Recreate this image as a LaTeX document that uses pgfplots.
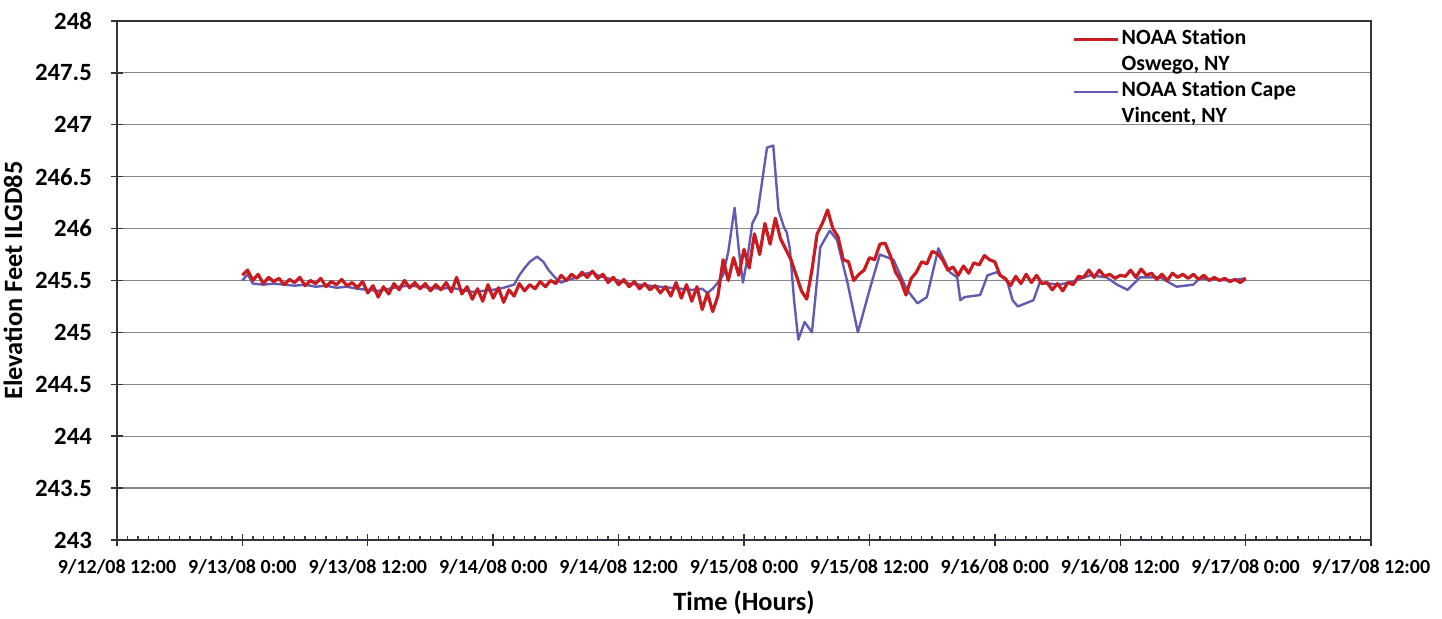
\documentclass[border=0pt]{standalone}
\usepackage{pgfplots}
\pgfplotsset{compat=1.18}
\usepackage{pgfplotstable}
\usepackage{fontspec}
\setmainfont{Carlito}

\definecolor{oswego}{RGB}{200,28,32}
\definecolor{capev}{RGB}{98,92,176}
\definecolor{gridgray}{RGB}{135,135,140}
\definecolor{boxgray}{RGB}{50,52,60}
\definecolor{baseaxis}{RGB}{50,72,55}

% hours since 9/12/08 12:00, water level (ft, IGLD85)
\pgfplotstableread{
t     z
12.0  245.55
12.5  245.60
13.0  245.50
13.5  245.56
14.0  245.47
14.5  245.53
15.0  245.49
15.5  245.52
16.0  245.46
16.5  245.51
17.0  245.48
17.5  245.53
18.0  245.45
18.5  245.50
19.0  245.47
19.5  245.52
20.0  245.44
20.5  245.49
21.0  245.46
21.5  245.51
22.0  245.45
22.5  245.48
23.0  245.43
23.5  245.49
24.0  245.38
24.5  245.45
25.0  245.34
25.5  245.44
26.0  245.37
26.5  245.47
27.0  245.41
27.5  245.50
28.0  245.43
28.5  245.48
29.0  245.42
29.5  245.47
30.0  245.40
30.5  245.46
31.0  245.41
31.5  245.48
32.0  245.39
32.5  245.53
33.0  245.37
33.5  245.44
34.0  245.32
34.5  245.42
35.0  245.30
35.5  245.46
36.0  245.33
36.5  245.43
37.0  245.29
37.5  245.41
38.0  245.35
38.5  245.47
39.0  245.40
39.5  245.46
40.0  245.42
40.5  245.49
41.0  245.44
41.5  245.50
42.0  245.47
42.5  245.55
43.0  245.50
43.5  245.56
44.0  245.52
44.5  245.58
45.0  245.53
45.5  245.59
46.0  245.52
46.5  245.56
47.0  245.48
47.5  245.53
48.0  245.46
48.5  245.51
49.0  245.44
49.5  245.49
50.0  245.42
50.5  245.47
51.0  245.41
51.5  245.45
52.0  245.38
52.5  245.44
53.0  245.35
53.5  245.48
54.0  245.33
54.5  245.46
55.0  245.30
55.5  245.44
56.0  245.22
56.5  245.38
57.0  245.20
57.5  245.35
58.0  245.70
58.5  245.50
59.0  245.72
59.5  245.55
60.0  245.80
60.5  245.62
61.0  245.95
61.5  245.75
62.0  246.05
62.5  245.85
63.0  246.10
63.5  245.90
64.0  245.80
64.5  245.70
65.0  245.55
65.5  245.40
66.0  245.32
66.5  245.60
67.0  245.95
67.5  246.05
68.0  246.18
68.5  246.00
69.0  245.92
69.5  245.70
70.0  245.68
70.5  245.50
71.0  245.56
71.5  245.60
72.0  245.72
72.5  245.70
73.0  245.85
73.5  245.86
74.0  245.74
74.5  245.58
75.0  245.50
75.5  245.36
76.0  245.52
76.5  245.58
77.0  245.68
77.5  245.66
78.0  245.78
78.5  245.76
79.0  245.70
79.5  245.60
80.0  245.63
80.5  245.55
81.0  245.64
81.5  245.57
82.0  245.67
82.5  245.65
83.0  245.74
83.5  245.70
84.0  245.68
84.5  245.55
85.0  245.52
85.5  245.45
86.0  245.54
86.5  245.47
87.0  245.56
87.5  245.48
88.0  245.55
88.5  245.47
89.0  245.48
89.5  245.41
90.0  245.47
90.5  245.40
91.0  245.48
91.5  245.46
92.0  245.54
92.5  245.53
93.0  245.60
93.5  245.53
94.0  245.60
94.5  245.54
95.0  245.56
95.5  245.52
96.0  245.55
96.5  245.54
97.0  245.60
97.5  245.53
98.0  245.61
98.5  245.55
99.0  245.57
99.5  245.51
100.0 245.56
100.5 245.50
101.0 245.57
101.5 245.53
102.0 245.56
102.5 245.52
103.0 245.56
103.5 245.51
104.0 245.55
104.5 245.50
105.0 245.53
105.5 245.50
106.0 245.52
106.5 245.49
107.0 245.51
107.5 245.48
108.0 245.52
}\oswegotab

\pgfplotstableread{
t     z
12.0  245.50
12.5  245.56
13.0  245.47
14.0  245.46
15.0  245.47
16.0  245.46
17.0  245.45
18.0  245.46
19.0  245.44
20.0  245.45
21.0  245.43
22.0  245.44
23.0  245.42
24.0  245.41
25.0  245.40
26.0  245.42
27.0  245.44
28.0  245.45
29.0  245.44
30.0  245.43
31.0  245.42
32.0  245.43
33.0  245.41
34.0  245.39
35.0  245.40
36.0  245.41
37.0  245.43
38.0  245.46
38.5  245.55
39.0  245.62
39.5  245.68
40.2  245.73
40.8  245.68
41.3  245.60
42.0  245.52
42.5  245.48
43.0  245.50
44.0  245.53
45.0  245.57
45.5  245.58
46.0  245.55
47.0  245.52
48.0  245.50
49.0  245.47
50.0  245.46
51.0  245.45
52.0  245.44
53.0  245.43
54.0  245.42
55.0  245.41
56.0  245.42
56.5  245.38
57.0  245.42
57.5  245.48
58.0  245.55
58.5  245.78
59.1  246.20
59.5  245.80
59.9  245.48
60.3  245.70
60.8  246.05
61.3  246.15
61.8  246.50
62.2  246.78
62.8  246.80
63.3  246.18
63.8  246.02
64.1  245.96
64.4  245.80
64.8  245.30
65.2  244.93
65.8  245.10
66.5  245.00
67.3  245.82
68.2  245.98
68.9  245.89
69.9  245.48
70.9  245.00
72.1  245.44
73.0  245.75
74.3  245.70
75.6  245.41
76.6  245.28
77.5  245.34
78.6  245.81
79.7  245.58
80.4  245.53
80.7  245.31
81.1  245.34
82.6  245.36
83.3  245.55
84.2  245.58
85.2  245.49
85.7  245.31
86.2  245.25
87.7  245.31
88.3  245.48
90.2  245.46
91.5  245.49
93.1  245.55
94.7  245.53
95.7  245.46
96.7  245.41
97.9  245.53
99.8  245.53
101.4 245.44
103.0 245.46
103.6 245.52
105.0 245.51
106.5 245.50
108.0 245.52
}\capetab

\begin{document}
\begin{tikzpicture}
\begin{axis}[
  name=main,
  scale only axis,
  width=627pt, height=259.5pt,
  xmin=0, xmax=120, ymin=243, ymax=248,
  axis line style={boxgray, line width=0.8pt},
  x axis line style={baseaxis},
  xtick pos=bottom, ytick pos=left,
  xtick={0,12,...,120},
  xticklabels={9/12/08 12:00, 9/13/08 0:00, 9/13/08 12:00, 9/14/08 0:00,
    9/14/08 12:00, 9/15/08 0:00, 9/15/08 12:00, 9/16/08 0:00,
    9/16/08 12:00, 9/17/08 0:00, 9/17/08 12:00},
  minor x tick num=11,
  ytick={243,243.5,...,248},
  yticklabels={243,243.5,244,244.5,245,245.5,246,246.5,247,247.5,248},
  tick align=center,
  major tick length=6pt,
  minor tick length=2pt,
  tick style={boxgray, line width=0.7pt},
  minor x tick style={baseaxis, yshift=1pt},
  ymajorgrids,
  major grid style={gridgray, line width=0.6pt},
  xticklabel style={font=\bfseries\fontsize{10}{12}\selectfont, anchor=north, yshift=-3pt},
  yticklabel style={font=\bfseries\fontsize{12.4}{14}\selectfont, anchor=east, xshift=-6pt},
  xlabel={Time (Hours)},
  ylabel={Elevation Feet ILGD85},
  label style={font=\bfseries\fontsize{13.2}{15}\selectfont},
  xlabel style={at={(axis description cs:0.5,0)}, anchor=center, yshift=-31.5pt},
  ylabel style={at={(axis description cs:-0.083,0.5)}, anchor=center},
  legend style={draw=none, fill=none, at={(axis description cs:0.757,0.997)},
    anchor=north west, font=\bfseries\fontsize{10.9}{13}\selectfont,
    nodes={inner sep=1pt, text height=8pt, text depth=3pt},
    row sep=0pt},
  legend cell align=left,
  legend image code/.code={\draw[#1] (0pt,0pt) -- (22pt,0pt);},
]
  \addlegendimage{oswego, line width=1.5pt}
  \addlegendentry{NOAA Station}
  \addlegendimage{empty legend}
  \addlegendentry{Oswego, NY}
  \addlegendimage{capev, line width=1.3pt}
  \addlegendentry{NOAA Station Cape}
  \addlegendimage{empty legend}
  \addlegendentry{Vincent, NY}

  \addplot[capev, line width=1.2pt, line join=round, forget plot] table[x=t, y=z] {\capetab};
  \addplot[oswego, line width=1.6pt, line join=round, forget plot] table[x=t, y=z] {\oswegotab};

  \coordinate (boxtl) at (rel axis cs:0,1);
  \coordinate (boxtr) at (rel axis cs:1,1);
  \coordinate (boxbr) at (rel axis cs:1,0);
  \coordinate (boxbl) at (rel axis cs:0,0);
\end{axis}
% plot-area frame: top and right edges
\draw[boxgray, line width=1pt, line cap=square] (boxtl) -- (boxtr) -- (boxbr);
\pgfresetboundingbox
\path ([xshift=-58.5pt,yshift=-39.5pt]boxbl) rectangle ([xshift=35.5pt,yshift=10.5pt]boxtr);
\end{tikzpicture}
\end{document}
